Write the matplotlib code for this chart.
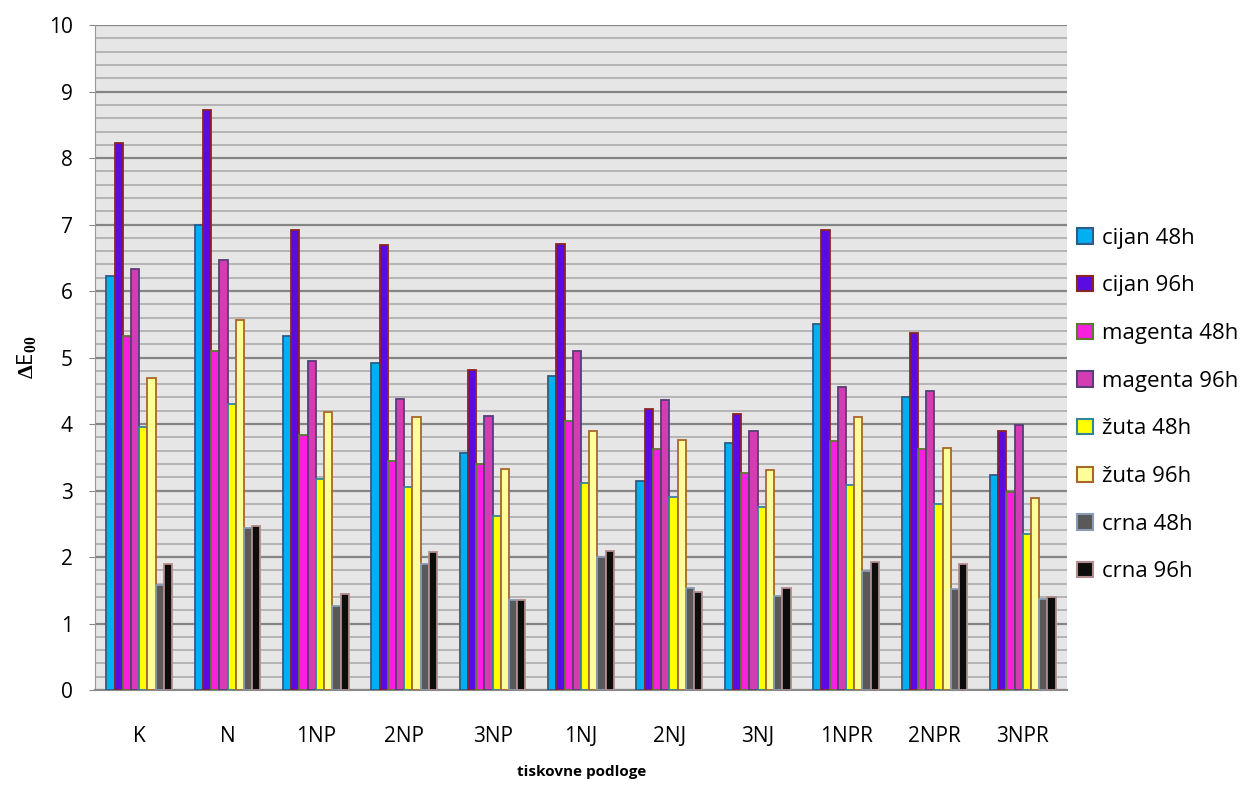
import matplotlib
matplotlib.use("Agg")
from matplotlib import pyplot as plt
from matplotlib.patches import Patch
import numpy as np

categories = ["K", "N", "1NP", "2NP", "3NP", "1NJ", "2NJ", "3NJ", "1NPR", "2NPR", "3NPR"]

cijan_48 = [6.22, 7.00, 5.33, 4.92, 3.57, 4.73, 3.14, 3.71, 5.50, 4.41, 3.23]
cijan_96 = [8.22, 8.72, 6.92, 6.69, 4.82, 6.71, 4.23, 4.15, 6.92, 5.37, 3.89]
magenta_48 = [5.32, 5.10, 3.84, 3.45, 3.40, 4.05, 3.62, 3.27, 3.74, 3.63, 2.98]
magenta_96 = [6.33, 6.46, 4.95, 4.38, 4.12, 5.10, 4.36, 3.90, 4.56, 4.49, 3.98]
zuta_48 = [3.95, 4.30, 3.18, 3.05, 2.62, 3.12, 2.90, 2.75, 3.08, 2.80, 2.34]
zuta_96 = [4.70, 5.56, 4.18, 4.11, 3.33, 3.89, 3.76, 3.31, 4.11, 3.64, 2.89]
crna_48 = [1.58, 2.43, 1.26, 1.90, 1.35, 2.00, 1.53, 1.42, 1.79, 1.52, 1.37]
crna_96 = [1.90, 2.47, 1.44, 2.07, 1.35, 2.09, 1.47, 1.53, 1.92, 1.90, 1.40]

series = [cijan_48, cijan_96, magenta_48, magenta_96, zuta_48, zuta_96, crna_48, crna_96]
labels = ["cijan 48h", "cijan 96h", "magenta 48h", "magenta 96h",
          "žuta 48h", "žuta 96h", "crna 48h", "crna 96h"]
fills = ["#00B0F0", "#5A0BE3", "#F81FDD", "#D43CB4", "#FFFF00", "#FFFF99", "#595959", "#0D0D0D"]
edges = ["#2E5C8A", "#8B2525", "#5E7A2E", "#5A3C78", "#31859C", "#A8662A", "#8A9BB5", "#B38D8D"]

plt.rcParams['font.family'] = ['Open Sans', 'DejaVu Sans']
plt.rcParams['mathtext.fontset'] = 'custom'
plt.rcParams['mathtext.rm'] = 'Liberation Serif:bold'
plt.rcParams['mathtext.it'] = 'Liberation Serif:bold'

fig = plt.figure(figsize=(12.45, 7.85), dpi=100)
ax = fig.add_axes([0.0763, 0.121, 0.7807, 0.847])
ax.set_facecolor("#E6E6E6")

x = np.arange(len(categories))
w = 0.093
for j, (vals, fc, ec) in enumerate(zip(series, fills, edges)):
    ax.bar(x + (j - 3.5) * w, vals, w, color=fc, edgecolor=ec, linewidth=1.3, zorder=3)

ax.set_ylim(0, 10)
ax.set_xlim(-0.5, len(categories) - 0.5)
ax.set_yticks(range(0, 11))
ax.set_yticks(np.arange(0, 10.01, 0.2), minor=True)
ax.yaxis.grid(True, which='major', color="#858585", linewidth=1.6, zorder=1)
ax.yaxis.grid(True, which='minor', color="#B4B4B4", linewidth=1.4, zorder=1)
ax.set_axisbelow(True)
ax.set_xticks(x)
ax.set_xticklabels(categories)
ax.tick_params(axis='y', which='minor', length=0)
ax.tick_params(axis='y', which='major', length=4, color="#888888", labelsize=15, pad=12)
ax.tick_params(axis='x', length=0, labelsize=15, pad=26)

for s in ['top', 'right']:
    ax.spines[s].set_visible(False)
ax.spines['left'].set_color("#999999")
ax.spines['bottom'].set_color("#888888")
ax.spines['bottom'].set_linewidth(1.5)

ax.set_ylabel(r'$\Delta$E$_{00}$', fontsize=16, labelpad=8)
# x axis title sits low, near the bottom edge
fig.text(0.467, 0.016, "tiskovne podloge", fontsize=11, fontweight='bold',
         ha='center', va='center')

handles = [Patch(facecolor=fc, edgecolor=ec, linewidth=1.5) for fc, ec in zip(fills, edges)]
fig.legend(handles, labels, loc='center left', bbox_to_anchor=(0.858, 0.484),
           frameon=False, fontsize=16, handlelength=0.7, handleheight=0.7,
           handletextpad=0.4, labelspacing=1.2, borderaxespad=0)

fig.savefig("out.png", dpi=100)
